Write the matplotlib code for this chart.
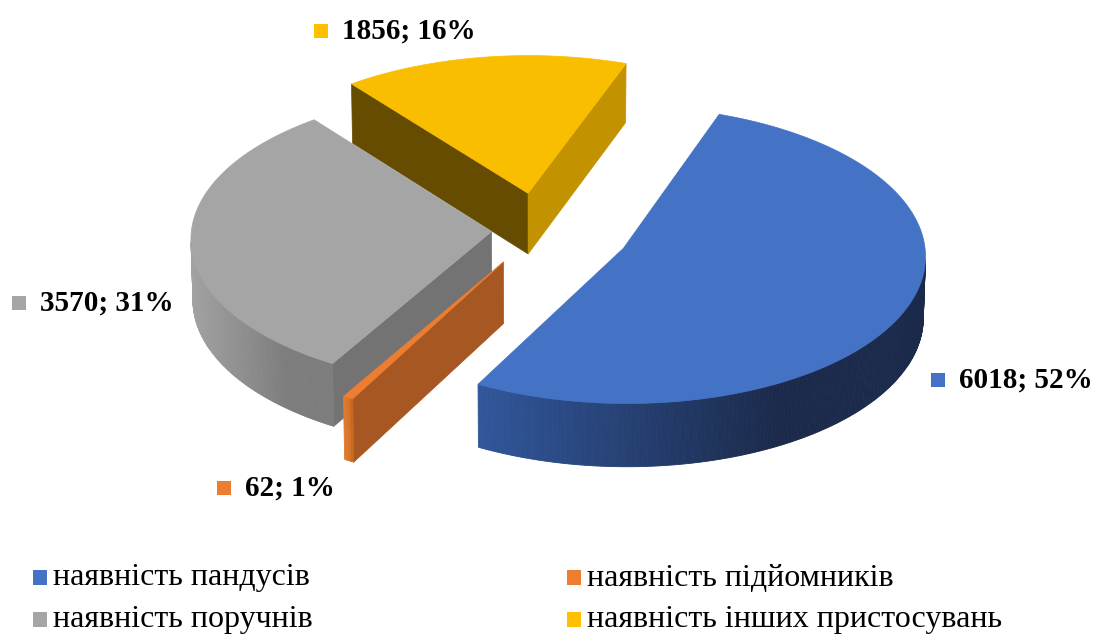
import numpy as np
import matplotlib
matplotlib.use("Agg")
import matplotlib.pyplot as plt
from matplotlib.patches import Polygon, Rectangle
from matplotlib.colors import to_rgb

# data
categories = ["наявність пандусів", "наявність підйомників",
              "наявність поручнів", "наявність інших пристосувань"]
values = np.array([6018, 62, 3570, 1856])

# styles
top_colors = ["#4472C4", "#ED7D31", "#A5A5A5", "#F9BE00"]
side_light = ["#30569A", "#DE7A2F", "#A2A2A2", "#C99800"]
side_dark = ["#1B2A4B", "#C8691F", "#7D7D7D", "#8F6B00"]
face_start = ["#22375F", "#A65722", "#737373", "#664C00"]   # radial face at slice start edge
face_end = ["#22375F", "#A65722", "#737373", "#C29200"]     # radial face at slice end edge
legend_colors = ["#4472C4", "#ED7D31", "#A5A5A5", "#FFC000"]
explode = [0.303, 0.247, 0.162, 0.256]

# label layout (pixel coords, text left edge / vertical centre)
label_xy = [(959, 380), (245, 488), (40, 303), (342, 31)]
leg_xy = [(53, 578), (587, 578), (53, 620), (587, 620)]

# 3d geometry
start_deg = 20.0
cx, cy = 540.0, 230.0
S = 300.0
tilt = np.radians(29.3)
dist = 20.0
h = 0.235
st, ct = np.sin(tilt), np.cos(tilt)
cam = np.array([0.0, -dist * ct, dist * st])


def proj(X, Y, Z):
    v = Y * st + Z * ct
    d = Y * ct - Z * st
    f = dist / (dist + d)
    return cx + S * X * f, cy - S * v * f


def visible(P, n):
    return np.dot(cam - P, n) > 0


def mix(c1, c2, t):
    a, b = np.array(to_rgb(c1)), np.array(to_rgb(c2))
    return tuple(a + (b - a) * t)


fig = plt.figure(figsize=(10.96, 6.35), dpi=100)
ax = fig.add_axes([0, 0, 1, 1])
ax.set_xlim(0, 1096)
ax.set_ylim(635, 0)
ax.axis("off")

fracs = values / values.sum()
edges = start_deg + 360 * np.concatenate([[0], np.cumsum(fracs)])

slices = []
for i in range(len(values)):
    a0, a1 = edges[i], edges[i + 1]
    mid = np.radians((a0 + a1) / 2)
    ox, oy = explode[i] * np.sin(mid), explode[i] * np.cos(mid)
    slices.append((oy, i, a0, a1, ox))

# back slices first
for oy, i, a0, a1, ox in sorted(slices, reverse=True):
    # radial faces
    for a, nb, col in [(a0, a0 - 90, face_start[i]), (a1, a1 + 90, face_end[i])]:
        r = np.radians(a)
        n = np.array([np.sin(np.radians(nb)), np.cos(np.radians(nb)), 0])
        rim = np.array([ox + np.sin(r), oy + np.cos(r)])
        P = np.array([(ox + rim[0]) / 2, (oy + rim[1]) / 2, -h / 2])
        if visible(P, n):
            pts = [proj(ox, oy, 0), proj(rim[0], rim[1], 0),
                   proj(rim[0], rim[1], -h), proj(ox, oy, -h)]
            ax.add_patch(Polygon(pts, closed=True, fc=col, ec=col, lw=0.5))
    # outer curved side, split in strips for shading
    angs = np.linspace(a0, a1, max(int((a1 - a0) * 2), 4))
    strips = []
    for k in range(len(angs) - 1):
        am = np.radians((angs[k] + angs[k + 1]) / 2)
        n = np.array([np.sin(am), np.cos(am), 0])
        P = np.array([ox + np.sin(am), oy + np.cos(am), -h / 2])
        if visible(P, n):
            strips.append((angs[k], angs[k + 1]))
    if strips:
        xs = [proj(ox + np.sin(np.radians(s[0])), oy + np.cos(np.radians(s[0])), 0)[0] for s in strips]
        xmin, xmax = min(xs), max(xs)
        for s0, s1 in strips:
            r0, r1 = np.radians(s0), np.radians(s1)
            p0 = (ox + np.sin(r0), oy + np.cos(r0))
            p1 = (ox + np.sin(r1), oy + np.cos(r1))
            pts = [proj(*p0, 0), proj(*p1, 0), proj(*p1, -h), proj(*p0, -h)]
            xm = (pts[0][0] + pts[1][0]) / 2
            t = 0 if xmax == xmin else min(1, max(0, (xm - xmin) / (xmax - xmin) * 1.5))
            col = mix(side_light[i], side_dark[i], t)
            ax.add_patch(Polygon(pts, closed=True, fc=col, ec=col, lw=0.6))
    # top face
    arc = np.radians(np.linspace(a0, a1, 200))
    pts = [proj(ox, oy, 0)] + [proj(ox + np.sin(r), oy + np.cos(r), 0) for r in arc]
    ax.add_patch(Polygon(pts, closed=True, fc=top_colors[i], ec=top_colors[i], lw=0.5))

# data labels
for i, (x, y) in enumerate(label_xy):
    pct = round(fracs[i] * 100)
    ax.add_patch(Rectangle((x - 28, y - 7), 14, 14, fc=legend_colors[i], ec="none"))
    ax.text(x, y, f"{values[i]}; {pct}%", fontsize=21, fontweight="bold",
            family="Liberation Serif", ha="left", va="center")

# legend
for i, (x, y) in enumerate(leg_xy):
    ax.add_patch(Rectangle((x - 20, y - 8), 14, 15, fc=legend_colors[i], ec="none"))
    ax.text(x, y, categories[i], fontsize=23, family="Liberation Serif",
            ha="left", va="center")

fig.savefig("out.png", dpi=100)
